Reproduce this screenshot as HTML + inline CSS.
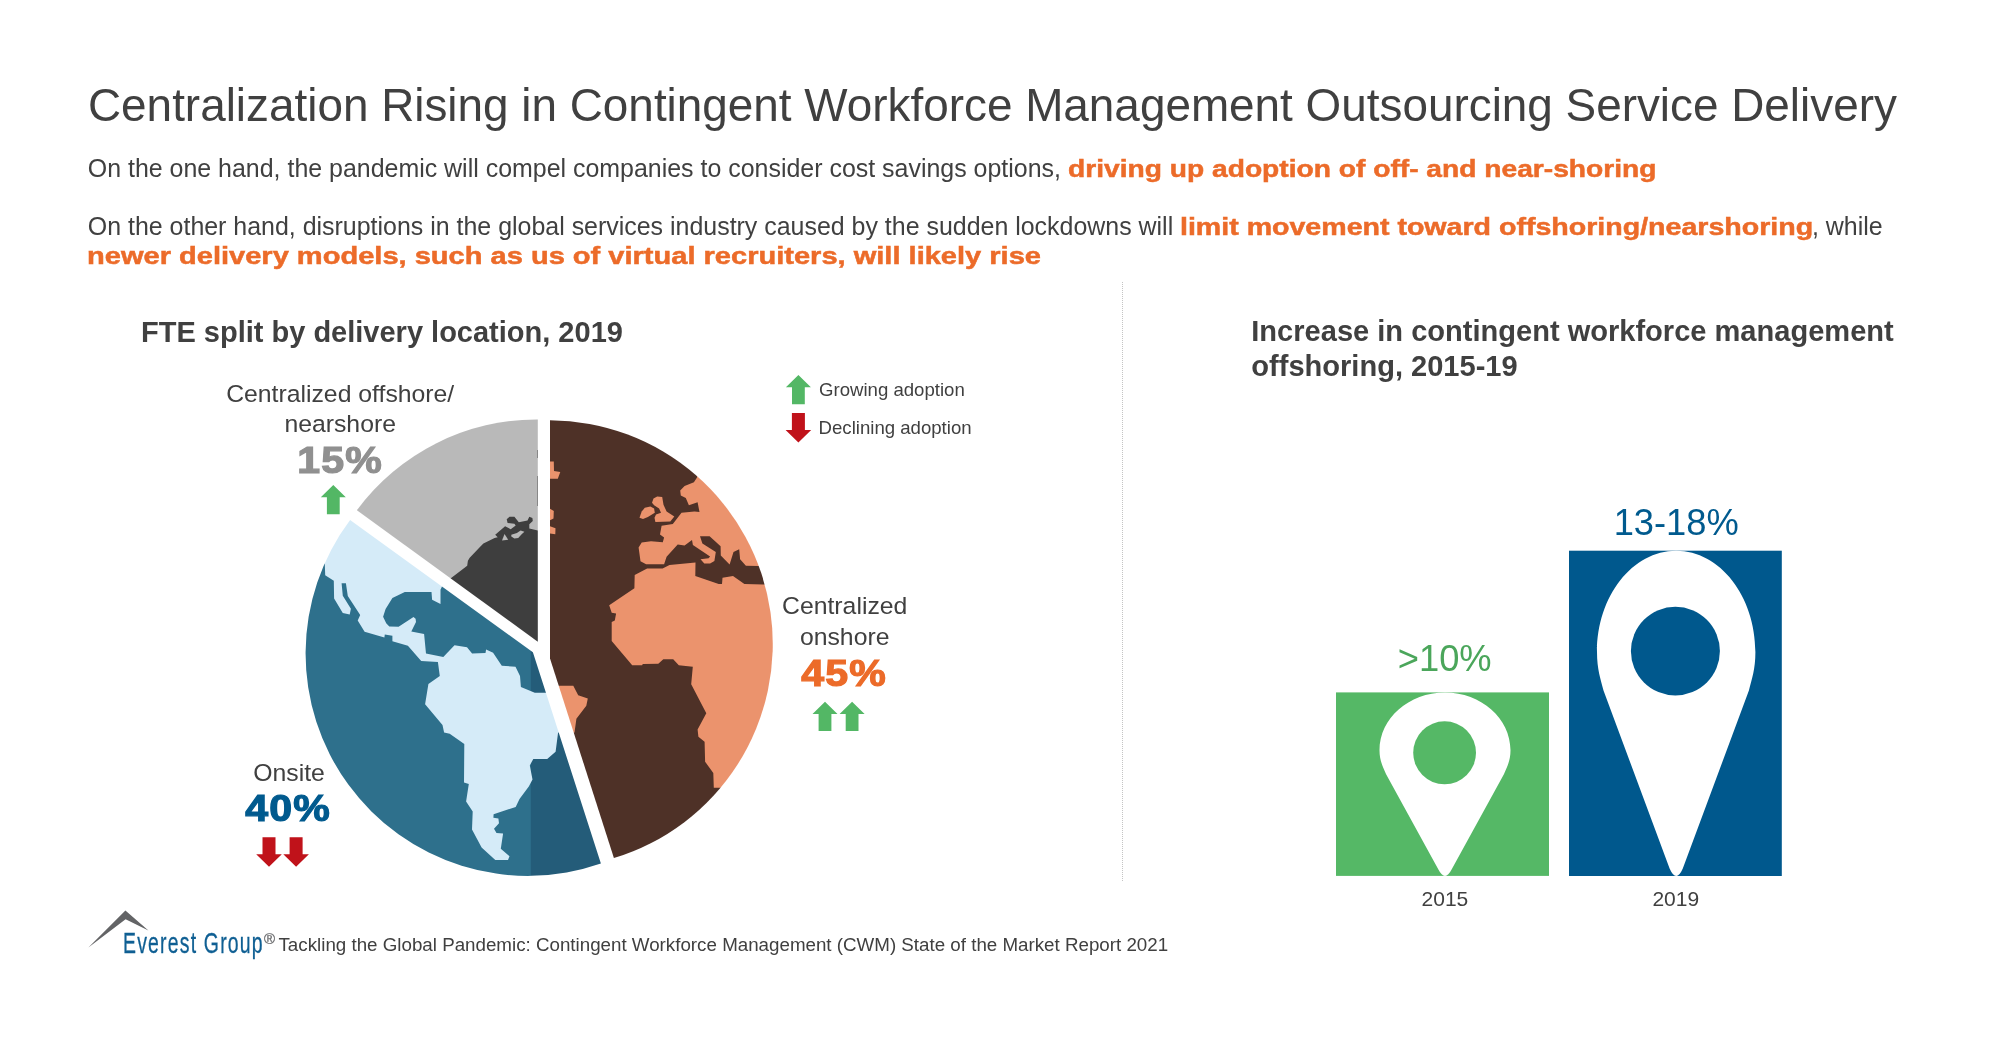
<!DOCTYPE html>
<html><head><meta charset="utf-8"><title>Centralization Rising in Contingent Workforce Management Outsourcing Service Delivery</title>
<style>
html,body{margin:0;padding:0;background:#fff;}
body{width:2000px;height:1047px;position:relative;overflow:hidden;font-family:"Liberation Sans",sans-serif;}
</style></head><body>
<div style="position:absolute;left:0;top:0;width:2000px;height:1047px;will-change:transform">
<svg width="2000" height="1047" viewBox="0 0 2000 1047" style="position:absolute;left:0;top:0">
<defs><mask id="mg" maskUnits="userSpaceOnUse" x="300" y="410" width="480" height="475"><path d="M537.8,641.8 L356.9,510.2 A223.5,223.5 0 0 1 537.8,419.5 Z" fill="#fff"/></mask><mask id="mb" maskUnits="userSpaceOnUse" x="300" y="410" width="480" height="475"><path d="M550.0,658.4 L550.0,420.3 A223.7,223.7 0 0 1 613.9,858.1 Z" fill="#fff"/></mask><mask id="ml" maskUnits="userSpaceOnUse" x="300" y="410" width="480" height="475"><path d="M532.9,652.2 L600.9,863.6 A222.4,222.4 0 0 1 350.1,520.0 Z" fill="#fff"/></mask></defs>
<g mask="url(#mg)"><rect x="350" y="412" width="195" height="236" fill="#B9B9B9"/><polygon points="450.5,578.5 467.2,565.8 467.9,560.8 469.7,557.7 479.7,547.2 483.4,543.5 494.6,537.9 497.7,537.2 495.2,534.8 505.1,526.3 510.7,529.2 515.7,525.5 514.4,523.8 507.6,523 506.7,519.2 509.5,516.8 514.4,516.8 518.8,522.3 527.5,520.5 529.3,516.8 532.4,518 532.8,521.1 529.3,524.2 529.3,528.6 537.8,530.4 545,530.4 545,650 440,580" fill="#3E3E3E"/><polygon points="504.5,534.1 508.2,539.7 502,540.4" fill="#B9B9B9"/><polygon points="511.3,534.8 516.9,532.9 520.6,530.4 524.4,531.7 521.9,534.1 518.2,537.9 514.4,538.5 511.3,536.6" fill="#B9B9B9"/><rect x="537" y="450" width="1" height="8" fill="#6a6a6a"/><rect x="537" y="476" width="1" height="30" fill="#6a6a6a"/></g>
<g mask="url(#mb)"><rect x="545" y="412" width="235" height="455" fill="#4E3127"/><polygon points="545,461.5 553.8,461.5 554,470.9 560.3,472.1 557.8,478.7 545,478.7" fill="#EB936D"/><polygon points="545,508.8 550,508.8 553.8,511.1 553.5,518.5 550,520.2 545,520.2" fill="#EB936D"/><polygon points="545,526.2 550,526.2 555.5,528.3 555.3,534.2 550,533.4 545,533.4" fill="#EB936D"/><polygon points="559.6,685.7 573.3,685.7 578.2,695.3 587.8,698.4 586.3,705.8 576.4,718.8 574.5,732.5 565,735 550,686" fill="#EB936D"/><polygon points="639.5,517.7 641.7,511.5 644.8,507.8 650.4,506.6 654.1,508.4 654.8,512.8 647.9,517.1 643,519" fill="#EB936D"/><polygon points="652,502.8 653.5,498.5 657.2,496.6 662.2,496.9 663.5,504.7 666.6,511.5 674.3,516.5 670.3,521.5 655.4,522.1 654.5,517.7 656,514.6 661,512.8 659.1,508.4 654.1,505.3" fill="#EB936D"/><polygon points="697,477.4 693.9,482.3 684.6,486.1 680.2,490.4 680.8,495.4 685.8,497.9 688.9,505.3 697.6,502.2 699.5,512.1 694.5,511.5 681.5,512.8 672.8,523.9 661.6,525.8 660,534.5 664.1,537.6 662.8,542.2 651,541.3 641.7,542.6 638.6,547.5 640.5,561.2 646.1,564.3 664.1,564.3 666.6,556.8 677.7,544.4 684.6,545.4 692,540.1 692.9,544.9 710.1,556.4 708.6,558.3 700.5,559.2 704.3,563.5 710.1,563.5 714.4,561.1 715.8,552.1 702.4,543.5 700,536.3 709.6,536.3 720.6,546.3 720.8,555.4 729.6,564.5 733.5,552.1 739.2,549.2 740.1,559.2 745.9,565.7 758.3,565.9 785,566 785,465 700,465" fill="#EB936D"/><polygon points="763.1,584.5 744.4,584 733,575.9 722.5,577.8 722,584 718.7,584 695.3,575.9 695.5,562.5 669.5,565 662.6,568.4 647.1,568.4 634.7,574.9 634.4,588.3 609.2,605.3 611.7,612.8 616.1,613.6 614.8,620.5 611.7,622.1 611.7,641 632.2,665.3 642.1,665.3 642.8,664 658.3,663.7 663.3,659.3 673.2,659.3 678.8,665.3 692.8,666.8 691.2,684.2 706.3,713.3 697.6,729.4 698.4,736.8 704.6,741.8 705.1,761.7 713.3,772.9 713.8,787.8 720.7,787.8 735,800 795,800 795,584.5" fill="#EB936D"/></g>
<g mask="url(#ml)"><rect x="300" y="512" width="310" height="370" fill="#2E708C"/><rect x="530.8" y="640" width="80" height="250" fill="#245C79"/><polygon points="345,514 443,585 442.1,586.3 440.5,589.8 440.5,604.1 432.1,599.7 431.5,592 404.8,592 392.4,597.9 385.6,609 383.1,616.8 386.2,623.3 389.3,626.4 398.6,626.7 413.5,617.1 415.6,618.8 416,622.1 411.3,631.5 424.1,633.9 426,653.5 443.3,657.1 454.5,645.2 467,647.2 472.1,653.6 485.5,653.1 486.1,649.4 493.1,652.7 501.8,665.7 515.5,666.7 520,676 520.9,686.9 534.8,692.8 545.9,692.8 555,692.8 568,732.5 558.1,732.5 555.6,751.7 547.2,758.9 533.3,758.9 529.8,765.4 532.5,779.6 528.8,786.6 519.5,799 515.7,806.9 493.6,814.3 493.4,817.7 498.4,818.5 499,823.3 494,828.8 496.5,832.9 503.1,833.4 500.8,848.7 509.5,856.2 508,859.9 495.3,859.9 481.6,847.5 472,829.5 472.7,811.5 466.1,801.5 468.8,784.1 464,782.5 464.3,744 449.7,733.7 444.1,732.5 442.5,725 425.1,704.3 428.4,684.1 439.8,676 437.9,662.1 421.2,660.9 407.9,645.7 392.4,641.3 392.4,635.7 384.8,634.5 384.4,637.6 364.6,631.7 357.7,620.5 360.2,614.9 347.8,595.9 345.9,583.3 341.6,583.3 342.8,595.7 350.9,608.7 349.7,614.5 342.8,613.1 334.1,598.4 333.8,580.8 325.2,575.2 324.8,563.4 312,563 338,512" fill="#D5EBF8"/></g>
<polygon points="798.4,374.9 810.9,387.2 804.8,387.2 804.8,404.3 792.0,404.3 792.0,387.2 785.9,387.2" fill="#53B765"/>

<polygon points="798.4,442.6 811.2,430.1 804.9,430.1 804.9,413.0 791.9,413.0 791.9,430.1 785.6,430.1" fill="#C0121A"/>

<polygon points="333.3,484.9 345.8,497.2 339.7,497.2 339.7,514.3 326.9,514.3 326.9,497.2 320.8,497.2" fill="#53B765"/>

<polygon points="825.0,701.7 837.5,714.0 831.4,714.0 831.4,731.1 818.6,731.1 818.6,714.0 812.5,714.0" fill="#53B765"/>

<polygon points="852.1,701.7 864.6,714.0 858.5,714.0 858.5,731.1 845.7,731.1 845.7,714.0 839.6,714.0" fill="#53B765"/>

<polygon points="269.0,866.8 281.8,854.3 275.5,854.3 275.5,837.2 262.5,837.2 262.5,854.3 256.2,854.3" fill="#C0121A"/>

<polygon points="296.1,866.8 308.9,854.3 302.6,854.3 302.6,837.2 289.6,837.2 289.6,854.3 283.3,854.3" fill="#C0121A"/>

<rect x="1336" y="692.4" width="213" height="183.5" fill="#55B866"/>
<rect x="1569" y="550.7" width="212.8" height="325.3" fill="#00588D"/>
<path d="M1445,692.4 C1481.2,692.4 1510.5,718.3 1510.5,750.2 C1510.5,761.0 1506.9,767.0 1503.9,774.2 L1451.6,869.5 Q1445,882.3 1438.4,869.5 L1386.1,774.2 C1383.1,767.0 1379.5,761.0 1379.5,750.2 C1379.5,718.3 1408.8,692.4 1445,692.4 Z" fill="#fff"/>
<ellipse cx="1444.6" cy="752.8" rx="31.4" ry="31.5" fill="#55B866"/>
<path d="M1676.2,550.7 C1719.9,550.7 1755.4,596.1 1755.4,652 C1755.4,669.3 1751.8,679.0 1748.9,690.5 L1682.8,868.5 Q1676.2,883.5 1669.6000000000001,868.5 L1603.5,690.5 C1600.6,679.0 1597.0,669.3 1597.0,652 C1597.0,596.1 1632.5,550.7 1676.2,550.7 Z" fill="#fff"/>
<ellipse cx="1675.4" cy="651.1" rx="44.5" ry="44.3" fill="#00588D"/>
<defs><linearGradient id="lg" x1="0" y1="0" x2="1" y2="0"><stop offset="0" stop-color="#8a8b8d"/><stop offset="1" stop-color="#58595b"/></linearGradient></defs>
<polygon points="88.4,947.6 125.4,910.4 148.4,930.6 125.6,919.2" fill="#636466"/>
</svg>
<div style="position:absolute;left:1122px;top:282px;width:1px;height:599px;background:repeating-linear-gradient(to bottom,#c4c4c4 0,#c4c4c4 1px,#fff 1px,#fff 2px)"></div>
<div style="position:absolute;top:83px;font-size:45.87px;line-height:45.87px;color:#404040;font-weight:normal;white-space:nowrap;left:88.00px;transform-origin:0 50%;">Centralization Rising in Contingent Workforce Management Outsourcing Service Delivery</div>
<div style="position:absolute;top:156px;font-size:24.94px;line-height:24.94px;color:#404040;font-weight:normal;white-space:nowrap;left:87.80px;transform-origin:0 50%;">On the one hand, the pandemic will compel companies to consider cost savings options,</div>
<div style="position:absolute;top:157px;font-size:24.5px;line-height:24.5px;color:#EC6B29;font-weight:bold;white-space:nowrap;left:1067.50px;transform-origin:0 50%;transform:scaleX(1.15);-webkit-text-stroke:0.5px #EC6B29;">driving up adoption of off- and near-shoring</div>
<div style="position:absolute;top:214px;font-size:24.94px;line-height:24.94px;color:#404040;font-weight:normal;white-space:nowrap;left:87.80px;transform-origin:0 50%;">On the other hand, disruptions in the global services industry caused by the sudden lockdowns will</div>
<div style="position:absolute;top:215px;font-size:24.5px;line-height:24.5px;color:#EC6B29;font-weight:bold;white-space:nowrap;left:1179.80px;transform-origin:0 50%;transform:scaleX(1.1657);-webkit-text-stroke:0.5px #EC6B29;">limit movement toward offshoring/nearshoring</div>
<div style="position:absolute;top:214px;font-size:24.94px;line-height:24.94px;color:#404040;font-weight:normal;white-space:nowrap;left:1812.00px;transform-origin:0 50%;">, while</div>
<div style="position:absolute;top:244px;font-size:24.5px;line-height:24.5px;color:#EC6B29;font-weight:bold;white-space:nowrap;left:87.40px;transform-origin:0 50%;transform:scaleX(1.1854);-webkit-text-stroke:0.5px #EC6B29;">newer delivery models, such as us of virtual recruiters, will likely rise</div>
<div style="position:absolute;top:318px;font-size:29px;line-height:29px;color:#404040;font-weight:bold;white-space:nowrap;left:141.00px;transform-origin:0 50%;">FTE split by delivery location, 2019</div>
<div style="position:absolute;top:317px;font-size:29.05px;line-height:29.05px;color:#404040;font-weight:bold;white-space:nowrap;left:1251.30px;transform-origin:0 50%;">Increase in contingent workforce management</div>
<div style="position:absolute;top:352px;font-size:29.05px;line-height:29.05px;color:#404040;font-weight:bold;white-space:nowrap;left:1251.30px;transform-origin:0 50%;">offshoring, 2015-19</div>
<div style="position:absolute;top:381px;font-size:18.6px;line-height:18.6px;color:#404040;font-weight:normal;white-space:nowrap;left:819.00px;transform-origin:0 50%;">Growing adoption</div>
<div style="position:absolute;top:419px;font-size:18.6px;line-height:18.6px;color:#404040;font-weight:normal;white-space:nowrap;left:818.60px;transform-origin:0 50%;">Declining adoption</div>
<div style="position:absolute;top:382px;font-size:24.78px;line-height:24.78px;color:#404040;font-weight:normal;white-space:nowrap;left:340.20px;transform-origin:0 50%;transform:translateX(-50%);">Centralized offshore/</div>
<div style="position:absolute;top:412px;font-size:24.78px;line-height:24.78px;color:#404040;font-weight:normal;white-space:nowrap;left:340.20px;transform-origin:0 50%;transform:translateX(-50%);">nearshore</div>
<div style="position:absolute;top:443px;font-size:36.5px;line-height:36.5px;color:#909090;font-weight:bold;white-space:nowrap;left:339.70px;transform-origin:50% 50%;transform:translateX(-50%) scaleX(1.125);-webkit-text-stroke:1.2px #909090;letter-spacing:1px;">15%</div>
<div style="position:absolute;top:594px;font-size:24.78px;line-height:24.78px;color:#404040;font-weight:normal;white-space:nowrap;left:844.70px;transform-origin:0 50%;transform:translateX(-50%);">Centralized</div>
<div style="position:absolute;top:625px;font-size:24.78px;line-height:24.78px;color:#404040;font-weight:normal;white-space:nowrap;left:844.70px;transform-origin:0 50%;transform:translateX(-50%);">onshore</div>
<div style="position:absolute;top:656px;font-size:36.5px;line-height:36.5px;color:#EC6B29;font-weight:bold;white-space:nowrap;left:844.40px;transform-origin:50% 50%;transform:translateX(-50%) scaleX(1.125);-webkit-text-stroke:1.2px #EC6B29;letter-spacing:1px;">45%</div>
<div style="position:absolute;top:761px;font-size:24.78px;line-height:24.78px;color:#404040;font-weight:normal;white-space:nowrap;left:289.00px;transform-origin:0 50%;transform:translateX(-50%);">Onsite</div>
<div style="position:absolute;top:791px;font-size:36.5px;line-height:36.5px;color:#005A8E;font-weight:bold;white-space:nowrap;left:288.00px;transform-origin:50% 50%;transform:translateX(-50%) scaleX(1.125);-webkit-text-stroke:1.2px #005A8E;letter-spacing:1px;">40%</div>
<div style="position:absolute;top:641px;font-size:36.3px;line-height:36.3px;color:#4BA65B;font-weight:normal;white-space:nowrap;left:1444.70px;transform-origin:0 50%;transform:translateX(-50%);">&gt;10%</div>
<div style="position:absolute;top:505px;font-size:36.3px;line-height:36.3px;color:#005A8E;font-weight:normal;white-space:nowrap;left:1676.20px;transform-origin:0 50%;transform:translateX(-50%);">13-18%</div>
<div style="position:absolute;top:888px;font-size:21px;line-height:21px;color:#404040;font-weight:normal;white-space:nowrap;left:1444.90px;transform-origin:0 50%;transform:translateX(-50%);">2015</div>
<div style="position:absolute;top:888px;font-size:21px;line-height:21px;color:#404040;font-weight:normal;white-space:nowrap;left:1675.80px;transform-origin:0 50%;transform:translateX(-50%);">2019</div>
<div style="position:absolute;top:929px;font-size:28.6px;line-height:28.6px;color:#0F5F93;font-weight:normal;white-space:nowrap;left:123.20px;transform-origin:0 50%;transform:scaleX(0.68);-webkit-text-stroke:0.3px #0F5F93;letter-spacing:1.75px;">Everest Group</div>
<div style="position:absolute;top:931px;font-size:15px;line-height:15px;color:#6d6e70;font-weight:normal;white-space:nowrap;left:264.00px;transform-origin:0 50%;-webkit-text-stroke:0.3px #6d6e70;">&reg;</div>
<div style="position:absolute;top:936px;font-size:18.76px;line-height:18.76px;color:#404040;font-weight:normal;white-space:nowrap;left:278.50px;transform-origin:0 50%;">Tackling the Global Pandemic: Contingent Workforce Management (CWM) State of the Market Report 2021</div>
</div>
</body></html>
